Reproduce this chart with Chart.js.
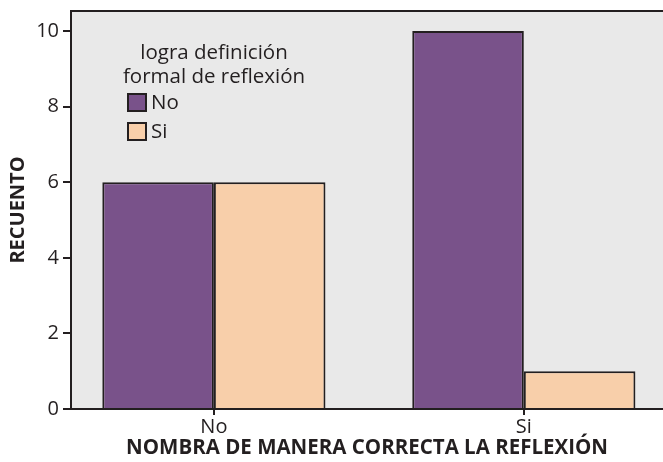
<!DOCTYPE html>
<html>
<head>
<meta charset="utf-8">
<script src="https://cdn.jsdelivr.net/npm/chart.js@4/dist/chart.umd.min.js"></script>
<style>
  html, body { margin: 0; padding: 0; background: #ffffff; }
  #wrap { width: 663px; height: 462px; }
</style>
</head>
<body>
<div id="wrap"><canvas id="c" width="663" height="462"></canvas></div>
<script>
const categories = ['No', 'Si'];
const seriesNames = ['No', 'Si'];
const valuesNo = [6, 10];
const valuesSi = [6, 1];
const yTicks = [0, 2, 4, 6, 8, 10];
const legendTitle = ['logra definición', 'formal de reflexión'];
const xTitle = 'NOMBRA DE MANERA CORRECTA LA REFLEXIÓN';
const yTitle = 'RECUENTO';

const INK = '#231f20';
const FONT = "'Open Sans', 'DejaVu Sans', sans-serif";
const colors = ['rgb(121,82,138)', 'rgb(248,207,170)'];

const bgPlugin = {
  id: 'bg',
  beforeDraw(chart) {
    const a = chart.chartArea, ctx = chart.ctx;
    ctx.save();
    ctx.fillStyle = '#e9e9e9';
    ctx.fillRect(a.left, a.top, chart.width - a.left, a.bottom - a.top);
    ctx.restore();
  },
  afterDraw(chart) {
    const a = chart.chartArea, ctx = chart.ctx;
    ctx.save();
    ctx.strokeStyle = INK;
    ctx.lineWidth = 2;
    ctx.beginPath();
    ctx.moveTo(a.left - 1, a.top);
    ctx.lineTo(chart.width, a.top);
    ctx.stroke();
    ctx.restore();
  }
};

const legendPlugin = {
  id: 'innerLegend',
  afterDatasetsDraw(chart) {
    const ctx = chart.ctx;
    ctx.save();
    ctx.font = '20.5px ' + FONT;
    ctx.fillStyle = INK;
    ctx.textAlign = 'center';
    ctx.textBaseline = 'alphabetic';
    legendTitle.forEach((t, i) => ctx.fillText(t, 214, 59 + i * 24));
    chart.data.datasets.forEach((ds, i) => {
      const y = 94 + i * 29;
      ctx.fillStyle = ds.backgroundColor;
      ctx.fillRect(128, y, 18, 17);
      ctx.strokeStyle = INK;
      ctx.lineWidth = 2;
      ctx.strokeRect(128, y, 18, 17);
      ctx.fillStyle = INK;
      ctx.textAlign = 'left';
      ctx.fillText(ds.label, 151, y + 15);
    });
    ctx.restore();
  }
};

new Chart(document.getElementById('c'), {
  type: 'bar',
  data: {
    datasets: [
      { label: seriesNames[0], data: valuesNo.map((v, i) => ({ x: i, y: v })), backgroundColor: colors[0], borderColor: INK, borderWidth: 2 },
      { label: seriesNames[1], data: valuesSi.map((v, i) => ({ x: i, y: v })), backgroundColor: colors[1], borderColor: INK, borderWidth: 2 }
    ]
  },
  options: {
    responsive: false,
    animation: false,
    devicePixelRatio: 1,
    categoryPercentage: 0.72,
    barPercentage: 1,
    layout: { padding: { top: 11, left: 0, right: 0, bottom: 0 } },
    plugins: { legend: { display: false }, tooltip: { enabled: false } },
    scales: {
      x: {
        type: 'linear',
        offset: false,
        min: -0.461,
        max: 1.449,
        afterBuildTicks(scale) { scale.ticks = categories.map((c, i) => ({ value: i })); },
        afterFit(scale) { scale.height = 53; scale.paddingLeft = 0; scale.paddingRight = 0; },
        ticks: {
          callback: (v) => categories[v],
          font: { family: FONT, size: 20 },
          color: INK,
          padding: 0,
          maxRotation: 0
        },
        grid: { offset: false, drawOnChartArea: false, drawTicks: true, tickLength: 6, color: INK, lineWidth: 2 },
        border: { display: true, color: INK, width: 2 },
        title: {
          display: true, text: xTitle, color: INK,
          font: { family: FONT, size: 20.5, weight: 'bold' },
          padding: { top: 0, bottom: 2 }
        }
      },
      y: {
        type: 'linear',
        min: 0,
        max: 10.53,
        afterBuildTicks(scale) { scale.ticks = yTicks.map(v => ({ value: v })); },
        afterFit(scale) { scale.width = 71; scale.paddingTop = 0; scale.paddingBottom = 0; },
        ticks: {
          font: { family: FONT, size: 20 },
          color: INK,
          padding: 4
        },
        grid: { drawOnChartArea: false, drawTicks: true, tickLength: 8, color: INK, lineWidth: 2 },
        border: { display: true, color: INK, width: 2 },
        title: {
          display: true, text: yTitle, color: INK,
          font: { family: FONT, size: 20, weight: 'bold' },
          padding: { top: 6, bottom: 0 }
        }
      }
    }
  },
  plugins: [bgPlugin, legendPlugin]
});
</script>
</body>
</html>
